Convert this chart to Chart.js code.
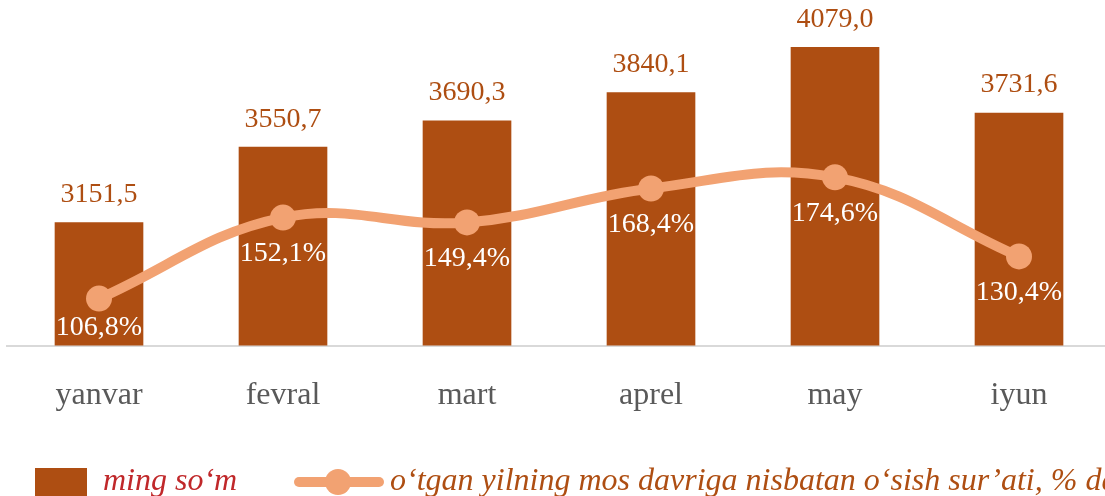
<!DOCTYPE html>
<html>
<head>
<meta charset="utf-8">
<script src="https://cdn.jsdelivr.net/npm/chart.js@4"></script>
<style>
  html, body { margin: 0; padding: 0; background: #fff; overflow: hidden; }
  #wrap { width: 1116px; height: 496px; }
</style>
</head>
<body>
<div id="wrap"><canvas id="myChart" width="1116" height="496"></canvas></div>
<script>
// oylar
const months = ['yanvar', 'fevral', 'mart', 'aprel', 'may', 'iyun'];
// ming so'm
const amounts = [3151.5, 3550.7, 3690.3, 3840.1, 4079.0, 3731.6];
// o'sish sur'ati, %
const growth = [106.8, 152.1, 149.4, 168.4, 174.6, 130.4];

const legendBar = 'ming so\u2018m';
const legendLine = 'o\u2018tgan yilning mos davriga nisbatan o\u2018sish sur\u2019ati, % da';

const barColor = '#AE4E12';
const lineColor = '#F2A272';

function fmt(v, d) {
  return v.toFixed(d).replace('.', ',');
}

// qiymatlarni yozish
const labelsPlugin = {
  id: 'valueLabels',
  afterDatasetsDraw(chart) {
    const c = chart.ctx;
    const area = chart.chartArea;
    c.save();
    c.textAlign = 'center';
    c.textBaseline = 'middle';
    c.font = '28px "Liberation Serif"';

    chart.getDatasetMeta(0).data.forEach((el, i) => {
      c.fillStyle = barColor;
      c.fillText(fmt(amounts[i], 1), el.x, el.y - 28);
    });

    chart.getDatasetMeta(1).data.forEach((el, i) => {
      c.fillStyle = '#ffffff';
      let y = Math.min(el.y + 36, area.bottom - 18);
      c.fillText(fmt(growth[i], 1) + '%', el.x, y);
    });
    c.restore();
  },
  afterDraw(chart) {
    const c = chart.ctx;
    const y = 482;
    c.save();
    // bar legend
    c.fillStyle = barColor;
    c.fillRect(35, 468, 52, 40);
    c.font = 'italic 32px "Liberation Serif"';
    c.textBaseline = 'middle';
    c.fillStyle = '#C0282A';
    c.fillText(legendBar, 103, y);
    // line legend
    c.strokeStyle = lineColor;
    c.lineWidth = 10;
    c.lineCap = 'round';
    c.beginPath();
    c.moveTo(299, y);
    c.lineTo(379, y);
    c.stroke();
    c.fillStyle = lineColor;
    c.beginPath();
    c.arc(338, y, 13, 0, Math.PI * 2);
    c.fill();
    c.fillStyle = barColor;
    c.fillText(legendLine, 390, y);
    c.restore();
  }
};

const ctx = document.getElementById('myChart');
new Chart(ctx, {
  type: 'bar',
  data: {
    labels: months,
    datasets: [{
      type: 'bar',
      label: legendBar,
      data: amounts,
      backgroundColor: barColor,
      barThickness: 88,
      yAxisID: 'y',
      order: 2
    }, {
      type: 'line',
      label: legendLine,
      data: growth,
      borderColor: lineColor,
      backgroundColor: lineColor,
      borderWidth: 10,
      pointRadius: 13,
      pointHoverRadius: 13,
      pointBorderWidth: 0,
      tension: 0.4,
      clip: false,
      yAxisID: 'y1',
      order: 1
    }]
  },
  options: {
    responsive: false,
    animation: false,
    layout: {
      autoPadding: false,
      padding: { left: 7, right: 5, top: 0, bottom: 50 }
    },
    plugins: {
      legend: { display: false },
      tooltip: { enabled: false }
    },
    scales: {
      x: {
        grid: { display: false, drawTicks: false },
        border: { display: true, color: '#D9D9D9', width: 2 },
        ticks: {
          padding: 31,
          color: '#595959',
          font: { family: 'Liberation Serif', size: 32 }
        }
      },
      y: {
        display: false,
        min: 2500,
        max: 4330
      },
      y1: {
        display: false,
        min: 80.5,
        max: 273.8
      }
    }
  },
  plugins: [labelsPlugin]
});
</script>
</body>
</html>
